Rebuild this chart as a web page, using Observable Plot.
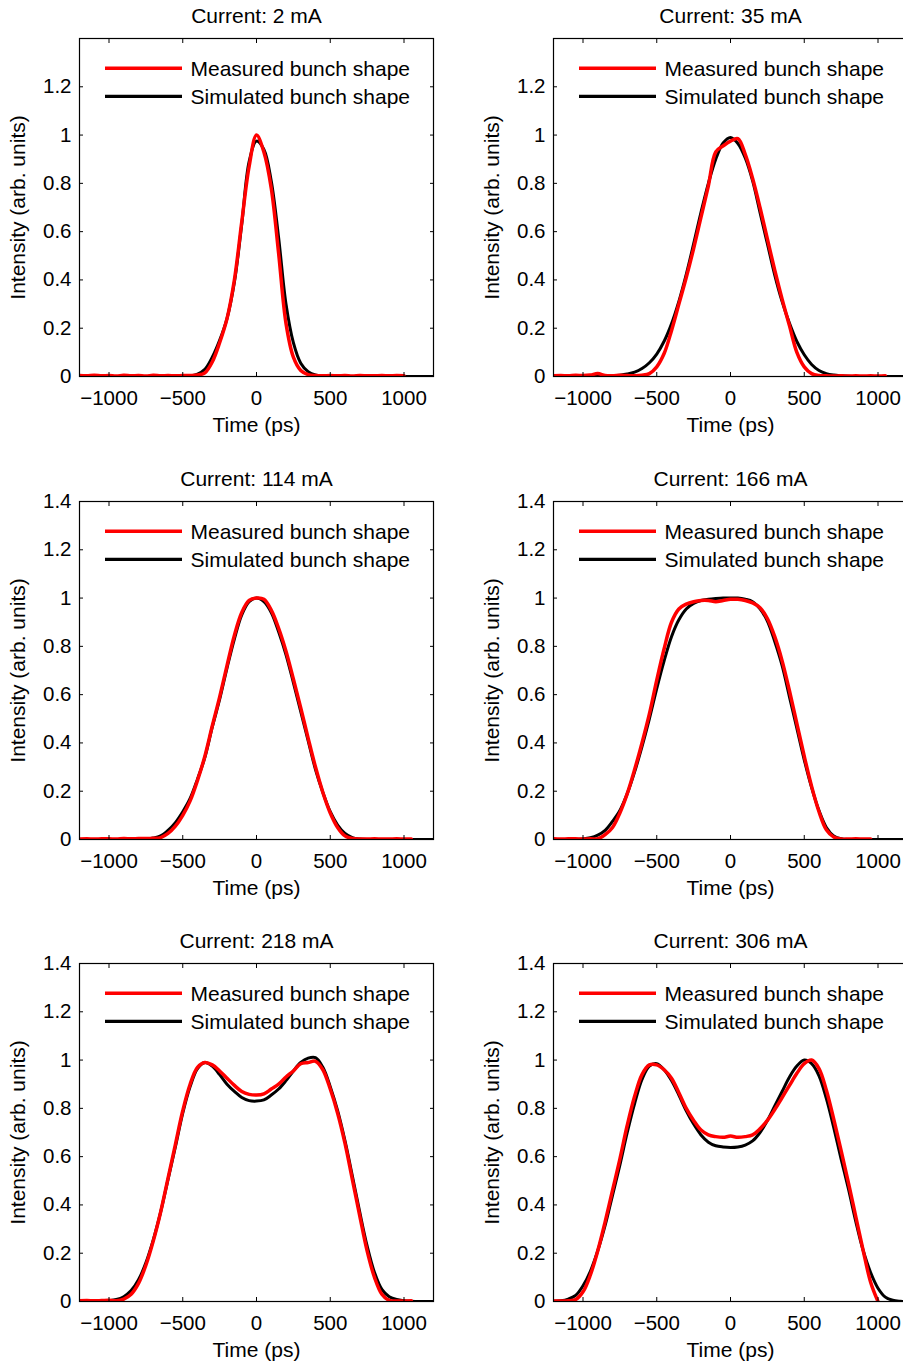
<!DOCTYPE html>
<html>
<head>
<meta charset="utf-8">
<script src="https://cdn.jsdelivr.net/npm/d3@7"></script>
<script src="https://cdn.jsdelivr.net/npm/@observablehq/plot@0.6"></script>
<style>
  html, body { margin: 0; padding: 0; background: white; }
  #root { position: relative; width: 903px; height: 1362px; overflow: hidden; background: white; }
  .panel { position: absolute; width: 453px; height: 436px; }
  .panel svg { max-width: none !important; }
</style>
</head>
<body>
<div id="root"></div>
<script>
// Sampling grid (ps)
const time = [-1200,-1150,-1100,-1050,-1000,-950,-900,
  -850,-800,-750,-700,-650,-600,-550,
  -500,-450,-400,-350,-300,-250,-200,
  -150,-100,-50,0,50,100,150,
  200,250,300,350,400,450,500,
  550,600,650,700,750,800,850,
  900,950,1000,1050,1100,1150,1200];

const currents = [2, 35, 114, 166, 218, 306];
const xTicks = [-1000, -500, 0, 500, 1000];
const yTicksTop = [0, 0.2, 0.4, 0.6, 0.8, 1, 1.2];
const yTicksFull = [0, 0.2, 0.4, 0.6, 0.8, 1, 1.2, 1.4];
const legendLabels = ["Measured bunch shape", "Simulated bunch shape"];

const sim2 = [0,0,0,0,0,0,0,
  0,0,0,0,0,0,0,
  0,0.002,0.01,0.03,0.08,0.15,0.24,
  0.39,0.63,0.89,0.975,0.94,0.81,0.575,
  0.30,0.14,0.055,0.02,0.006,0.002,0,
  0,0,0,0,0,0,0,
  0,0,0,0,0,0,0];
const meas2 = [0.004,0.003,0.005,0.003,0.004,0.002,0.005,
  0.003,0.004,0.002,0.005,0.003,0.004,0.003,
  0.004,0.004,0.006,0.015,0.06,0.14,0.24,
  0.40,0.64,0.87,1.0,0.93,0.78,0.51,
  0.22,0.08,0.025,0.008,0.004,0.003,0.004,
  0.003,0.004,0.002,0.004,0.003,0.003,0.004,
  0.003,0.004,0.003,null,null,null,null];

const sim35 = [0,0,0,0,0,0,0,
  0,0.002,0.005,0.01,0.018,0.033,0.057,
  0.093,0.146,0.218,0.311,0.423,0.549,0.68,
  0.80,0.90,0.967,0.99,0.965,0.905,0.81,
  0.68,0.55,0.42,0.31,0.22,0.145,0.09,
  0.05,0.025,0.012,0.006,0.003,0.001,0,
  0,0,0,0,0,0,0];
const meas35 = [0.003,0.004,0.003,0.005,0.004,0.006,0.012,
  0.004,0.003,0.005,0.004,0.003,0.005,0.012,
  0.04,0.095,0.19,0.30,0.41,0.53,0.66,
  0.79,0.93,0.955,0.975,0.985,0.92,0.82,
  0.70,0.57,0.44,0.32,0.21,0.10,0.04,
  0.012,0.004,0.003,0.002,0.003,0.002,0.003,
  0.002,0.003,0.002,0.003,null,null,null];

const sim114 = [0,0,0,0,0,0,0,
  0,0,0.002,0.006,0.015,0.038,0.07,
  0.115,0.17,0.25,0.34,0.465,0.58,0.71,
  0.83,0.93,0.985,1.0,0.985,0.94,0.86,
  0.765,0.65,0.53,0.41,0.29,0.195,0.115,
  0.06,0.025,0.008,0.002,0,0,0,
  0,0,0,0,0,0,0];
const meas114 = [0.002,0.003,0.002,0.003,0.003,0.002,0.004,
  0.003,0.004,0.004,0.005,0.008,0.025,0.055,
  0.10,0.16,0.245,0.345,0.47,0.59,0.72,
  0.845,0.94,0.99,1.0,0.995,0.95,0.875,
  0.78,0.665,0.545,0.42,0.30,0.195,0.11,
  0.05,0.015,0.004,0.002,0.002,0.003,0.002,
  0.002,0.003,0.002,0.002,null,null,null];

const sim166 = [0,0,0,0,0.002,0.007,0.018,
  0.038,0.075,0.12,0.19,0.28,0.385,0.50,
  0.625,0.74,0.84,0.91,0.955,0.978,0.99,
  0.995,0.998,1.0,1.0,1.0,0.995,0.985,
  0.955,0.905,0.82,0.72,0.59,0.46,0.33,
  0.215,0.12,0.05,0.015,0.003,0,0,
  0,0,0,0,0,0,0];
const meas166 = [0.003,0.002,0.003,0.003,0.002,0.003,0.003,
  0.02,0.05,0.11,0.19,0.29,0.40,0.52,
  0.66,0.79,0.90,0.955,0.975,0.985,0.99,
  0.99,0.985,0.99,0.995,0.995,0.99,0.98,
  0.96,0.915,0.84,0.74,0.615,0.48,0.345,
  0.22,0.115,0.04,0.01,0.002,0.002,0.003,
  0.002,0.002,null,null,null,null,null];

const sim218 = [0,0,0,0.001,0.003,0.008,0.02,
  0.045,0.09,0.16,0.255,0.37,0.505,0.64,
  0.78,0.89,0.965,0.99,0.975,0.94,0.90,
  0.87,0.845,0.832,0.83,0.835,0.855,0.88,
  0.915,0.955,0.99,1.008,1.01,0.97,0.89,
  0.79,0.665,0.52,0.37,0.23,0.12,0.05,
  0.02,0.008,0.003,0.001,0,0,0];
const meas218 = [0.003,0.004,0.003,0.004,0.005,0.003,0.01,
  0.03,0.075,0.15,0.25,0.37,0.51,0.65,
  0.79,0.90,0.97,0.99,0.98,0.955,0.925,
  0.895,0.87,0.858,0.855,0.86,0.88,0.90,
  0.93,0.955,0.985,0.99,0.995,0.96,0.88,
  0.78,0.655,0.505,0.355,0.21,0.10,0.03,
  0.005,0.002,0.002,0.003,null,null,null];

const sim306 = [0.001,0.003,0.01,0.025,0.065,0.125,0.21,
  0.315,0.44,0.565,0.70,0.82,0.92,0.975,
  0.985,0.96,0.915,0.855,0.79,0.735,0.69,
  0.66,0.645,0.64,0.638,0.64,0.648,0.665,
  0.70,0.75,0.81,0.87,0.93,0.975,1.0,
  0.985,0.935,0.84,0.72,0.59,0.465,0.33,
  0.21,0.12,0.055,0.018,0.005,0.001,0];
const meas306 = [0.002,0.002,0.003,0.008,0.04,0.11,0.21,
  0.33,0.46,0.59,0.73,0.85,0.94,0.98,
  0.98,0.96,0.925,0.865,0.80,0.75,0.71,
  0.69,0.683,0.68,0.685,0.68,0.683,0.69,
  0.715,0.75,0.795,0.845,0.895,0.945,0.985,
  1.0,0.965,0.875,0.755,0.625,0.49,0.35,
  0.21,0.08,0.0,null,null,null,null];

const measured = [meas2, meas35, meas114, meas166, meas218, meas306];
const simulated = [sim2, sim35, sim114, sim166, sim218, sim306];

const FONT = "'Liberation Sans', Arial, Helvetica, sans-serif";
const W = 453, H = 436, ML = 79, MR = 20, MT = 38, MB = 60;
const colLeft = [0, 474];
const rowTop = [0, 463, 925];
const fmtX = d => d < 0 ? "\u2212" + Math.abs(d) : String(d);
const fmtY = d => String(d);

const root = document.getElementById("root");

currents.forEach((cur, k) => {
  const row = Math.floor(k / 2), col = k % 2;
  const yTicks = row === 0 ? yTicksTop : yTicksFull;
  const toRows = arr => time.map((t, i) => ({t, v: arr[i]}));
  const chart = Plot.plot({
    width: W, height: H,
    marginLeft: ML, marginRight: MR, marginTop: MT, marginBottom: MB,
    style: {fontFamily: FONT, fontSize: "20.5px", color: "black", background: "white", overflow: "visible", maxWidth: "none"},
    x: {domain: [-1200, 1200]},
    y: {domain: [0, 1.4]},
    marks: [
      Plot.line(toRows(simulated[k]), {x: "t", y: "v", stroke: "black", strokeWidth: 3, curve: "catmull-rom", clip: true}),
      Plot.line(toRows(measured[k]), {x: "t", y: "v", stroke: "#ff0000", strokeWidth: 3.5, curve: "catmull-rom", clip: true}),
      Plot.frame({stroke: "black", strokeWidth: 1.2}),
      Plot.axisX({ticks: xTicks, tickSize: 0, tickPadding: 14, tickFormat: fmtX, label: null}),
      Plot.axisX({ticks: xTicks, tickSize: 4, dy: -4, fill: "none", label: null}),
      Plot.axisX({anchor: "top", ticks: xTicks, tickSize: 4, dy: 4, fill: "none", label: null}),
      Plot.axisY({ticks: yTicks, tickSize: 0, tickPadding: 8, tickFormat: fmtY, label: null}),
      Plot.axisY({ticks: yTicks, tickSize: 4, dx: 4, fill: "none", label: null}),
      Plot.axisY({anchor: "right", ticks: yTicks, tickSize: 4, dx: -4, fill: "none", label: null}),
      Plot.text([`Current: ${cur} mA`], {text: d => d, frameAnchor: "top", lineAnchor: "top", dy: -30.5, fontSize: 21}),
      Plot.text(["Time (ps)"], {text: d => d, frameAnchor: "bottom", lineAnchor: "top", dy: 41, fontSize: 21}),
      Plot.text(["Intensity (arb. units)"], {text: d => d, frameAnchor: "left", textAnchor: "middle", lineAnchor: "middle", rotate: -90, dx: -61.5, fontSize: 21})
    ]
  });

  // Legend (inside the frame, upper left)
  const svg = d3.select(chart);
  const lg = svg.append("g").attr("font-family", FONT).attr("font-size", 21).attr("text-anchor", "start");
  const legColors = ["#ff0000", "black"];
  const legWidths = [3.5, 3.2];
  legendLabels.forEach((lab, j) => {
    const yy = MT + 30.3 + j * 28;
    lg.append("line")
      .attr("x1", ML + 26).attr("x2", ML + 103)
      .attr("y1", yy).attr("y2", yy)
      .attr("stroke", legColors[j]).attr("stroke-width", legWidths[j]);
    lg.append("text")
      .attr("x", ML + 111.5).attr("y", yy).attr("dy", "0.35em")
      .attr("text-anchor", "start")
      .attr("fill", "black").text(lab);
  });

  const div = document.createElement("div");
  div.className = "panel";
  div.style.left = colLeft[col] + "px";
  div.style.top = rowTop[row] + "px";
  div.appendChild(chart);
  root.appendChild(div);
});
</script>
</body>
</html>
